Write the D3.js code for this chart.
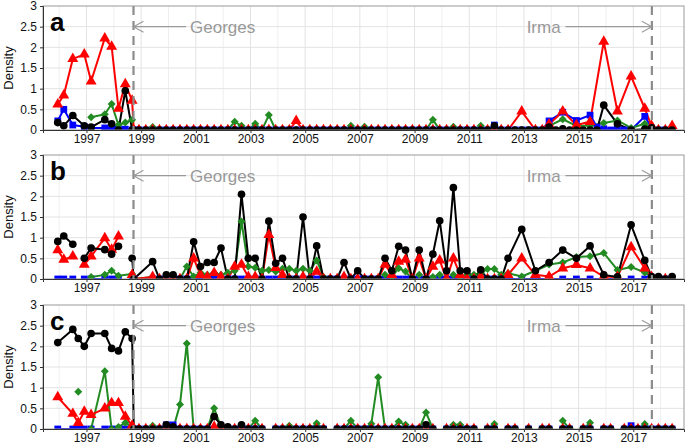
<!DOCTYPE html>
<meta charset="utf-8">
<style>
  body { margin: 0; background: #fff; }
  text { font-family: "Liberation Sans", Arial, sans-serif; }
</style>
<body>
<script src="https://d3js.org/d3.v7.min.js"></script>
<script>
  // sampling dates as decimal years: pre-Georges, storm date, then quarterly
  var times = [
    1995.95, 1996.17, 1996.50, 1996.70, 1996.92, 1997.17, 1997.67, 1997.92, 1998.17, 1998.42, 1998.67,
    1998.73, 1998.92,
    1999.17, 1999.42, 1999.67, 1999.92, 2000.17, 2000.42, 2000.67, 2000.92,
    2001.17, 2001.42, 2001.67, 2001.92, 2002.17, 2002.42, 2002.67, 2002.92,
    2003.17, 2003.42, 2003.67, 2003.92, 2004.17, 2004.42, 2004.67, 2004.92,
    2005.17, 2005.42, 2005.67, 2005.92, 2006.17, 2006.42, 2006.67, 2006.92,
    2007.17, 2007.42, 2007.67, 2007.92, 2008.17, 2008.42, 2008.67, 2008.92,
    2009.17, 2009.42, 2009.67, 2009.92, 2010.17, 2010.42, 2010.67, 2010.92,
    2011.17, 2011.42, 2011.67, 2011.92, 2012.17, 2012.42, 2012.67, 2012.92,
    2013.17, 2013.42, 2013.67, 2013.92, 2014.17, 2014.42, 2014.67, 2014.92,
    2015.17, 2015.42, 2015.67, 2015.92, 2016.17, 2016.42, 2016.67, 2016.92,
    2017.17, 2017.42, 2017.67, 2017.92, 2018.17, 2018.42
  ];

  var yearTicks = [1997, 1999, 2001, 2003, 2005, 2007, 2009, 2011, 2013, 2015, 2017];
  var minorYears = [1996, 1998, 2000, 2002, 2004, 2006, 2008, 2010, 2012, 2014, 2016, 2018];
  var densityTicks = [0, 0.5, 1, 1.5, 2, 2.5, 3];
  var densityTickLabels = ["0", "0.5", "1", "1.5", "2", "2.5", "3"];
  var panelLabels = ["a", "b", "c"];
  var storms = [
    { name: "Georges", date: 1998.72, textAt: 2000.79, arrowFrom: 2000.64 },
    { name: "Irma", date: 2017.68, textAt: 2013.10, arrowFrom: 2014.52 }
  ];

  // null = no sample (line breaks), NaN = no sample (line continues)
  // ---- panel a
  var aBlue = [
    0.22, 0.5, 0.12, NaN, 0.08, 0.05, 0.05, 0.05, 0.02, 0.02, 0,
    0, 0,
    0, 0, 0, 0, 0, 0, 0, 0,
    0, 0, 0, 0, 0, 0, 0, 0,
    0, 0, 0, 0, 0, 0, 0, 0,
    0, 0, 0, 0, 0, 0, 0, 0,
    0, 0, 0, 0, 0, 0, 0, 0,
    0, 0, 0, 0, 0, 0, 0, 0,
    0, 0, 0, 0.12, 0, 0, 0, 0,
    0, 0, 0, 0.22, NaN, 0.43, NaN, 0.23,
    NaN, 0.36, 0.07, 0.03, 0, 0.02, 0, 0,
    NaN, 0.33, 0.05, 0, 0, 0
  ];
  var aGreen = [
    NaN, NaN, NaN, NaN, NaN, 0.31, 0.38, 0.63, 0.12, 0.18, 0.25,
    0, 0,
    0, 0.07, 0, 0, 0, 0, 0, 0,
    0, 0, 0, 0, 0, 0.2, 0.1, 0,
    0.15, 0, 0.36, 0, 0, 0, 0, 0,
    0, 0, 0, 0, 0, 0, 0.1, 0,
    0.08, 0, 0, 0, 0, 0, 0, 0,
    0, 0, 0.25, 0, 0, 0.08, 0, 0,
    0, 0.1, 0, 0, 0, 0, 0, 0,
    0, 0, 0, 0.1, NaN, 0.26, NaN, 0.1,
    NaN, 0.1, NaN, 0.17, NaN, 0.23, NaN, 0.05,
    NaN, 0.15, 0, 0, 0, 0
  ];
  var aRed = [
    0.62, 0.84, 1.72, NaN, 1.83, 1.18, 2.22, 2.02, 0.52, 1.11, 0.71,
    0, 0,
    0, 0, 0, 0, 0, 0, 0, 0,
    0, 0, 0, 0, 0, 0, 0, 0,
    0, 0, 0, 0, 0, 0, 0.22, 0,
    0, 0, 0, 0, 0, 0, 0, 0,
    0, 0, 0, 0, 0, 0, 0, 0,
    0, 0, 0, 0, 0, 0, 0, 0,
    0, 0, 0, 0, 0, 0, NaN, 0.45,
    NaN, 0, 0, 0.14, NaN, 0.45, NaN, 0.12,
    NaN, 0.2, NaN, 2.14, NaN, 0.45, NaN, 1.3,
    NaN, 0.52, 0.1, 0, 0, 0.1
  ];
  var aBlack = [
    0.18, 0.1, 0.35, NaN, 0.1, 0.07, 0.25, 0.15, 0, 0.95, 0,
    0, 0,
    0, 0, 0, 0, 0, 0, 0, 0,
    0, 0, 0, 0, 0, 0, 0, 0,
    0, 0, 0, 0, 0, 0, 0, 0,
    0, 0, 0, 0, 0, 0, 0, 0,
    0, 0, 0, 0, 0, 0, 0, 0,
    0, 0, 0, 0, 0, 0, 0, 0,
    0, 0, 0, 0.1, 0, 0, 0, 0,
    0, 0, 0, 0.07, 0, 0.03, 0, 0,
    0, 0, 0, 0.6, NaN, 0.15, NaN, 0,
    NaN, 0.02, 0.05, 0, 0, 0
  ];

  // ---- panel b
  var bBlue = [
    0, 0, 0, null, 0, 0, 0, 0, 0, null, 0,
    0, NaN,
    NaN, 0, 0, 0, 0, 0, 0, 0,
    0, 0, 0, 0, 0, 0, 0, 0,
    0, 0, 0, 0, 0, 0, 0, 0,
    0, 0, 0, 0, 0, 0, 0, 0,
    0, 0, 0, 0, 0, 0, 0, 0,
    0, 0, 0, 0, 0, 0, 0, 0,
    0, 0, 0, 0, 0, 0, NaN, 0,
    NaN, 0, NaN, 0, NaN, 0, NaN, 0,
    NaN, 0, NaN, 0, NaN, 0, NaN, 0,
    NaN, 0, 0, 0, 0, 0
  ];
  var bGreen = [
    NaN, NaN, NaN, NaN, NaN, 0.05, 0.1, 0.2, 0.08, NaN, 0.12,
    0, NaN,
    NaN, 0.05, 0, 0, 0, 0, 0.3, 0.06,
    0.15, 0.1, 0.15, 0.1, 0.15, 0.2, 1.39, 0.3,
    0.27, 0.2, 0.22, 0.18, 0.25, 0.25, 0.2, 0.25,
    0.2, 0.45, 0.05, 0, 0, 0, 0, 0,
    0, 0, 0, 0.1, 0.05, 0.26, 0.18, 0,
    0.1, 0, 0.05, 0.1, 0, 0.1, 0.05, 0.1,
    0.1, 0.15, 0.24, 0.24, 0.1, 0.14, NaN, 0.06,
    NaN, 0.2, NaN, 0.35, NaN, 0.4, NaN, 0.53,
    NaN, 0.55, NaN, 0.63, NaN, 0.22, NaN, 0.29,
    NaN, 0.16, 0.05, 0, 0, 0
  ];
  var bRed = [
    0.7, 0.47, 0.55, null, 0.35, 0.55, 0.99, 0.71, 1.03, null, 0.1,
    0, NaN,
    NaN, 0.05, 0, 0, 0, 0, 0, 0.5,
    0.1, 0.05, 0.15, 0.05, 0, 0.3, 0.35, 0.05,
    0.05, 0, 1.07, 0.27, 0.1, 0, 0, 0.05,
    0, 0.18, 0, 0, 0, 0.05, 0, 0,
    0, 0, 0, 0.35, 0.1, 0.42, 0.47, 0,
    0.5, 0, 0.3, 0.45, 0, 0.5, 0.1, 0,
    0, 0.05, 0, 0, 0, 0.1, NaN, 0.5,
    NaN, 0.1, NaN, 0.06, NaN, 0.26, NaN, 0.34,
    NaN, 0.26, NaN, 0.06, NaN, 0.05, NaN, 0.77,
    NaN, 0.26, 0.05, 0, 0, 0
  ];
  var bBlack = [
    0.91, 1.04, 0.84, null, 0.5, 0.75, 0.71, 0.6, 0.79, null, 0.5,
    0, NaN,
    NaN, 0.42, 0, 0.1, 0.1, 0, 0, 0.9,
    0.3, 0.4, 0.4, 0.75, 0, 0, 2.05, 0.5,
    0.5, 0, 1.4, 0.38, 0.5, 0, 0, 1.5,
    0, 0.8, 0, 0, 0, 0.4, 0, 0.2,
    0, 0, 0, 0.5, 0.2, 0.79, 0.7, 0,
    0.7, 0, 0.6, 1.41, 0.2, 2.21, 0.2, 0.2,
    0, 0.22, 0, 0, 0, 0.5, NaN, 1.2,
    NaN, 0.2, NaN, 0.4, NaN, 0.7, NaN, 0.5,
    NaN, 0.8, NaN, 0.1, NaN, 0.05, NaN, 1.31,
    NaN, 0.45, 0.06, 0.06, 0, 0.06
  ];

  // ---- panel c
  var cBlue = [
    0, NaN, 0, 0, 0, 0, 0, 0, 0, 0, 0,
    0, 0,
    0, 0, 0, 0.1, 0.1, 0, 0, 0,
    0, 0, 0, 0, 0, 0, 0, 0,
    0, 0, null, 0, 0, 0, 0, 0,
    0, 0, 0, null, 0, 0, 0, 0,
    0, 0, 0, 0, 0, 0, 0, 0,
    0, 0, 0, null, 0, 0, 0, 0,
    0, null, 0, 0, null, 0, 0, null,
    0, null, 0, 0, null, 0, 0, null,
    0, 0, null, 0, 0, null, 0, 0.08,
    0, 0, 0, 0, 0, 0
  ];
  var cGreen = [
    NaN, NaN, NaN, 0.9, null, 0, 1.4, 0, 0.05, 0.15, 0.05,
    0, 0,
    0, 0.08, 0, 0, 0, 0.59, 2.07, 0,
    0, 0, 0.5, 0.05, 0, 0, 0.08, 0,
    0.2, 0, null, 0, 0, 0.08, 0, 0,
    0, 0.14, 0, null, 0, 0, 0.2, 0,
    0, 0.13, 1.25, 0, 0, 0.18, 0.1, 0,
    0, 0.4, 0, null, 0, 0.1, 0.1, 0,
    0, null, 0, 0.12, null, 0, 0, null,
    0, null, 0, 0, null, 0.2, 0, null,
    0, 0.15, null, 0, 0, null, 0, 0,
    0, 0.12, 0, 0, 0, 0
  ];
  var cRed = [
    0.77, NaN, 0.37, 0.15, 0.42, 0.34, 0.5, 0.63, 0.63, 0.3, 0.08,
    0, 0,
    0, 0, 0, 0, 0, 0, 0, 0,
    0, 0, 0.05, 0, 0, 0, 0, 0,
    0, 0, null, 0, 0, 0, 0, 0,
    0, 0, 0, null, 0, 0, 0, 0,
    0, 0, 0, 0, 0, 0, 0, 0,
    0, 0, 0, null, 0, 0, 0, 0,
    0, null, 0, 0, null, 0, 0, null,
    0, null, 0, 0, null, 0, 0, null,
    0, 0, null, 0, 0, null, 0, 0,
    0, 0, 0, 0, 0, 0
  ];
  var cBlack = [
    2.09, NaN, 2.41, 2.19, 2.0, 2.31, 2.31, 1.95, 1.89, 2.35, 2.19,
    0, 0,
    0, 0, 0, 0.1, 0.05, 0, 0, 0,
    0, 0, 0.3, 0.1, 0.05, 0, 0.1, 0,
    0, 0, null, 0, 0, 0, 0, 0,
    0, 0, 0, null, 0, 0, 0, 0,
    0, 0, 0, 0, 0, 0, 0, 0,
    0, 0.1, 0, null, 0, 0, 0, 0,
    0, null, 0, 0, null, 0, 0, null,
    0, null, 0, 0, null, 0, 0, null,
    0, 0, null, 0, 0, null, 0, 0,
    0, 0, 0, 0, 0, 0
  ];

  var panels = [
    [aBlue, aGreen, aRed, aBlack],
    [bBlue, bGreen, bRed, bBlack],
    [cBlue, cGreen, cRed, cBlack]
  ];

  // drawing order: blue, green, red, black
  var seriesStyle = [
    { color: "#0000ff", symbol: d3.symbol().type(d3.symbolSquare).size(46) },
    { color: "#228b22", symbol: function () { return "M0,-4L4,0L0,4L-4,0Z"; } },
    { color: "#ff0000", symbol: d3.symbol().type(d3.symbolTriangle).size(52) },
    { color: "#000000", symbol: d3.symbol().type(d3.symbolCircle).size(46) }
  ];

  var width = 685, height = 444;
  var left = 43, right = 684, panelH = 124;
  var panelTops = [6, 155, 305];

  var svg = d3.select("body").append("svg")
    .attr("width", width)
    .attr("height", height);

  var x = d3.scaleLinear().domain([1995.41, 2018.855]).range([left, right]);

  function styleAxis(a) {
    a.select(".domain").attr("stroke", "#333");
    a.selectAll(".tick line").attr("stroke", "#333");
    a.selectAll("text").attr("font-size", 12).attr("fill", "#111")
      .attr("font-family", "Liberation Sans, Arial, sans-serif");
  }

  panels.forEach(function (series, i) {
    var top = panelTops[i];
    var y = d3.scaleLinear().domain([0, 3]).range([top + panelH, top]);
    var g = svg.append("g");

    g.append("clipPath").attr("id", "clip" + i)
      .append("rect")
      .attr("x", left).attr("y", top)
      .attr("width", right - left).attr("height", panelH);

    // grid
    g.selectAll(".minor").data(minorYears).enter().append("line")
      .attr("x1", function (d) { return x(d); }).attr("x2", function (d) { return x(d); })
      .attr("y1", top).attr("y2", top + panelH)
      .attr("stroke", "#efefef").attr("stroke-width", 1);
    g.selectAll(".major").data(yearTicks).enter().append("line")
      .attr("x1", function (d) { return x(d); }).attr("x2", function (d) { return x(d); })
      .attr("y1", top).attr("y2", top + panelH)
      .attr("stroke", "#e3e3e3").attr("stroke-width", 1);
    g.selectAll(".hgrid").data(densityTicks.slice(1, -1)).enter().append("line")
      .attr("x1", left).attr("x2", right)
      .attr("y1", function (d) { return y(d); }).attr("y2", function (d) { return y(d); })
      .attr("stroke", "#e3e3e3").attr("stroke-width", 1);

    var plot = g.append("g").attr("clip-path", "url(#clip" + i + ")");

    var line = d3.line()
      .defined(function (d) { return d.v !== null; })
      .x(function (d) { return x(d.t); })
      .y(function (d) { return y(d.v); });

    var rows = series.map(function (vals) {
      return times.map(function (t, k) { return { t: t, v: vals[k] }; })
        .filter(function (d) { return !(typeof d.v === "number" && isNaN(d.v)); });
    });

    rows.forEach(function (pts, s) {
      plot.append("path")
        .datum(pts)
        .attr("d", line)
        .attr("fill", "none")
        .attr("stroke", seriesStyle[s].color)
        .attr("stroke-width", 2)
        .attr("stroke-linejoin", "round");
    });

    rows.forEach(function (pts, s) {
      plot.selectAll(".pt" + s)
        .data(pts.filter(function (d) { return d.v !== null; }))
        .enter().append("path")
        .attr("transform", function (d) { return "translate(" + x(d.t) + "," + y(d.v) + ")"; })
        .attr("d", seriesStyle[s].symbol)
        .attr("fill", seriesStyle[s].color);
    });

    // storm lines and labels
    storms.forEach(function (st) {
      var xs = x(st.date), ya = y(2.5);
      g.append("line")
        .attr("x1", xs).attr("x2", xs).attr("y1", top).attr("y2", top + panelH)
        .attr("stroke", "#8c8c8c").attr("stroke-width", 2.2)
        .attr("stroke-dasharray", "9,6");
      var x0 = x(st.arrowFrom), dir = xs > x0 ? -1 : 1;
      g.append("path")
        .attr("d", "M" + x0 + "," + ya + "L" + xs + "," + ya +
          "M" + (xs + dir * 10) + "," + (ya - 5.5) + "L" + xs + "," + ya +
          "L" + (xs + dir * 10) + "," + (ya + 5.5))
        .attr("fill", "none").attr("stroke", "#9a9a9a").attr("stroke-width", 1.1);
      g.append("text")
        .attr("x", x(st.textAt)).attr("y", ya).attr("dy", "0.36em")
        .attr("font-size", 17).attr("fill", "#999")
        .text(st.name);
    });

    // frame and axes
    g.append("rect")
      .attr("x", left).attr("y", top).attr("width", right - left).attr("height", panelH)
      .attr("fill", "none").attr("stroke", "#9a9a9a").attr("stroke-width", 1);

    g.append("g")
      .attr("transform", "translate(0," + (top + panelH) + ")")
      .call(d3.axisBottom(x).tickValues(yearTicks).tickFormat(d3.format("d"))
        .tickSize(3).tickPadding(1))
      .call(styleAxis);

    g.append("g")
      .attr("transform", "translate(" + left + ",0)")
      .call(d3.axisLeft(y).tickValues(densityTicks)
        .tickFormat(function (d, k) { return densityTickLabels[k]; })
        .tickSize(3).tickPadding(3))
      .call(styleAxis);

    g.append("text")
      .attr("transform", "translate(8," + (top + panelH / 2) + ") rotate(-90)")
      .attr("text-anchor", "middle").attr("dy", "0.36em")
      .attr("font-size", 13).attr("fill", "#111")
      .text("Density");

    g.append("text")
      .attr("x", 50).attr("y", top + 25)
      .attr("font-size", 26).attr("font-weight", "bold")
      .text(panelLabels[i]);
  });
</script>
</body>
